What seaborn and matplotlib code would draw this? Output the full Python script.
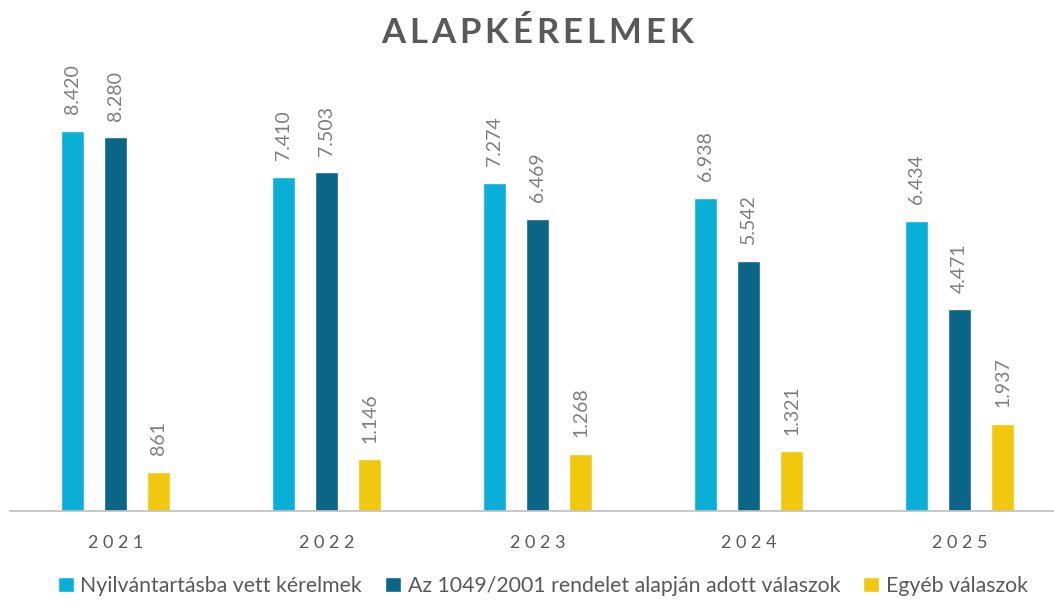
import matplotlib
matplotlib.use("Agg")
import matplotlib.pyplot as plt
from matplotlib.patches import Patch
import pandas as pd
import seaborn as sb

years = ["2021", "2022", "2023", "2024", "2025"]
series = [
    "Nyilvántartásba vett kérelmek",
    "Az 1049/2001 rendelet alapján adott válaszok",
    "Egyéb válaszok",
]
registered = [8420, 7410, 7274, 6938, 6434]
answered = [8280, 7503, 6469, 5542, 4471]
other = [861, 1146, 1268, 1321, 1937]
colors = ["#0AAFD7", "#0A6587", "#F2C80E"]
title = "ALAPKÉRELMEK"

df = pd.DataFrame({"year": years * 3,
                   "series": [series[0]] * 5 + [series[1]] * 5 + [series[2]] * 5,
                   "value": registered + answered + other})

sb.set_style("white")
plt.rcParams["font.family"] = ["Lato", "DejaVu Sans"]

fig = plt.figure(figsize=(10.54, 6.04), dpi=100)
ax = fig.add_axes([0.0095, 0.154, 0.9905, 0.747])

sb.barplot(data=df, x="year", y="value", hue="series", palette=colors,
           saturation=1, width=0.615, gap=0.47, ax=ax, legend=False)

for cont in ax.containers:
    labels = [f"{int(v):,}".replace(",", ".") for v in cont.datavalues]
    ax.bar_label(cont, labels=labels, rotation=90, padding=12,
                 color="#7F7F7F", fontsize=14)

ax.set_ylim(0, 10000)
ax.set_xlim(-0.5, 4.448)
ax.set_yticks([])
ax.set_xlabel("")
ax.set_ylabel("")
ax.set_xticks(range(len(years)))
ax.set_xticklabels([" ".join(y) for y in years], color="#595959", fontsize=13)
ax.tick_params(axis="x", length=0, pad=17)
for s in ["top", "left", "right"]:
    ax.spines[s].set_visible(False)
ax.spines["bottom"].set_color("#BFBFBF")
ax.spines["bottom"].set_linewidth(1.2)

# letter-spaced title, one character at a time
fig.canvas.draw()
renderer = fig.canvas.get_renderer()
tracking = 4  # px between letters
texts = [fig.text(0, 0.945, ch, fontsize=25, fontweight="bold", color="#595959",
                  va="center", ha="left") for ch in title]
widths = [t.get_window_extent(renderer).width for t in texts]
total = sum(widths) + tracking * (len(title) - 1)
x = (fig.bbox.width - total) / 2 + 10
for t, w in zip(texts, widths):
    t.set_x(x / fig.bbox.width)
    x += w + tracking

handles = [Patch(facecolor=c) for c in colors]
fig.legend(handles, series, loc="lower center", bbox_to_anchor=(0.515, -0.018),
           ncol=3, frameon=False, fontsize=15.3, labelcolor="#595959",
           handlelength=0.75, handleheight=0.75, handletextpad=0.3, columnspacing=1.1)

plt.savefig("out.png", dpi=100)
